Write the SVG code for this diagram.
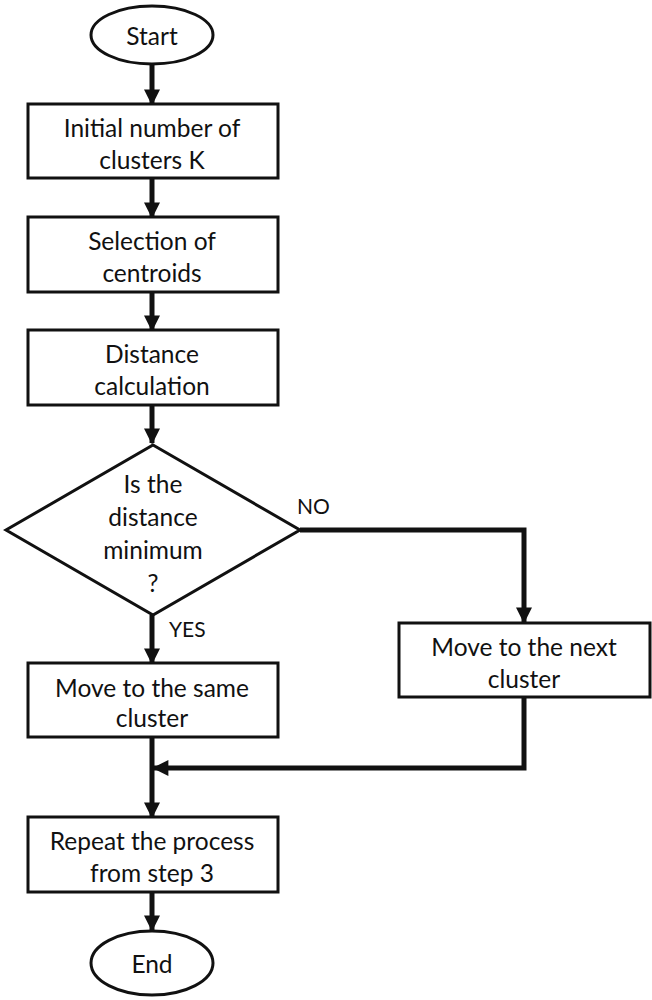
<svg xmlns="http://www.w3.org/2000/svg" width="652" height="1000" viewBox="0 0 652 1000">
<defs>
<style>
.n{fill:#fff;stroke:#111;stroke-width:3}
.t{font-family:Lato,"Liberation Sans",sans-serif;font-size:24.5px;fill:#111;text-anchor:middle;dominant-baseline:central}
.l{font-family:Lato,"Liberation Sans",sans-serif;font-size:21px;fill:#111;dominant-baseline:central}
.c{fill:none;stroke:#111;stroke-width:5}
</style>
<marker id="a" viewBox="0 0 10 10" refX="9" refY="5" markerWidth="3.4" markerHeight="3.2" orient="auto" markerUnits="strokeWidth">
<path d="M0,0 L10,5 L0,10 Z" fill="#111"/>
</marker>
</defs>
<rect width="652" height="1000" fill="#fff"/>
<g id="connectors">
<path class="c" d="M152,63 V104" marker-end="url(#a)"/>
<path class="c" d="M152,178 V217" marker-end="url(#a)"/>
<path class="c" d="M152,292 V330" marker-end="url(#a)"/>
<path class="c" d="M152,405 V443" marker-end="url(#a)"/>
<path class="c" d="M152,615 V663" marker-end="url(#a)"/>
<path class="c" d="M300,530 H524 V622" marker-end="url(#a)"/>
<path class="c" d="M152,737 V817" marker-end="url(#a)"/>
<path class="c" d="M524,697 V768 H154" marker-end="url(#a)"/>
<path class="c" d="M152,892 V930" marker-end="url(#a)"/>
<text class="l" x="297" y="505">NO</text>
<text class="l" x="169" y="628">YES</text>
</g>
<g id="start">
<ellipse class="n" cx="152" cy="35" rx="61" ry="29"/>
<text class="t" x="152" y="35">Start</text>
</g>
<g id="init">
<rect class="n" x="28" y="104" width="250" height="74"/>
<text class="t" x="152" y="127">Initial number of</text>
<text class="t" x="152" y="159">clusters K</text>
</g>
<g id="select">
<rect class="n" x="28" y="217" width="250" height="75"/>
<text class="t" x="152" y="240">Selection of</text>
<text class="t" x="152" y="272">centroids</text>
</g>
<g id="distance">
<rect class="n" x="28" y="330" width="250" height="75"/>
<text class="t" x="152" y="353">Distance</text>
<text class="t" x="152" y="385">calculation</text>
</g>
<g id="decision">
<polygon class="n" points="153,445 300,530 153,615 6,530" stroke-width="2.5"/>
<text class="t" x="153" y="483">Is the</text>
<text class="t" x="153" y="516">distance</text>
<text class="t" x="153" y="549">minimum</text>
<text class="t" x="153" y="582">?</text>
</g>
<g id="same">
<rect class="n" x="28" y="663" width="250" height="74"/>
<text class="t" x="152" y="687">Move to the same</text>
<text class="t" x="152" y="717">cluster</text>
</g>
<g id="next">
<rect class="n" x="399" y="623" width="251" height="74"/>
<text class="t" x="524" y="646">Move to the next</text>
<text class="t" x="524" y="678">cluster</text>
</g>
<g id="repeat">
<rect class="n" x="28" y="817" width="250" height="75"/>
<text class="t" x="152" y="840">Repeat the process</text>
<text class="t" x="152" y="872">from step 3</text>
</g>
<g id="end">
<ellipse class="n" cx="152" cy="963" rx="61" ry="32"/>
<text class="t" x="152" y="963">End</text>
</g>
</svg>
